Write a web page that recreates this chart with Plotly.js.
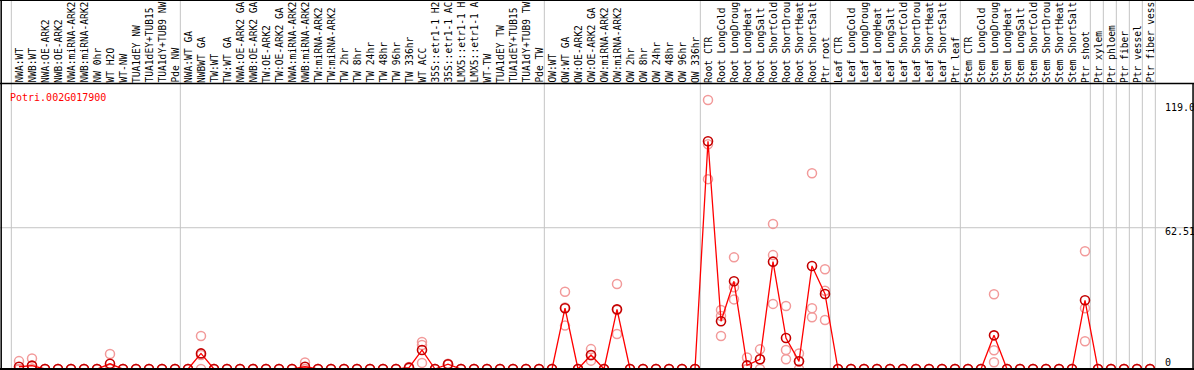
<!DOCTYPE html>
<html><head><meta charset="utf-8">
<script src="https://cdn.plot.ly/plotly-3.0.1.min.js"></script>
<style>html,body{margin:0;padding:0;background:#fff}#chart{width:1194px;height:370px}</style>
</head><body><div id="chart"></div>
<script>
const geneId = "Potri.002G017900";
const categories = [
"NWA:WT","NWB:WT","NWA:OE-ARK2","NWB:OE-ARK2","NWA:miRNA-ARK2","NWB:miRNA-ARK2","NW 0hr","WT H2O","WT-NW","TUA1dEY NW","TUA1dEY+TUB15","TUA1dY+TUB9 NW","Pde NW",
"NWA:WT GA","NWBWT GA","TW:WT","TW:WT GA","NWA:OE-ARK2 GA","NWB:OE-ARK2 GA","TW:OE-ARK2","TW:OE-ARK2 GA","NWA:miRNA-ARK2","NWB:miRNA-ARK2","TW:miRNA-ARK2","TW:miRNA-ARK2","TW 2hr","TW 8hr","TW 24hr","TW 48hr","TW 96hr","TW 336hr","WT ACC","35S::etr1-1 H2","35S::etr1-1 AC","LMX5::etr1-1 H","LMX5::etr1-1 A","WT-TW","TUA1dEY TW","TUA1dEY+TUB15","TUA1dY+TUB9 TW","Pde TW",
"OW:WT","OW:WT GA","OW:OE-ARK2","OW:OE-ARK2 GA","OW:miRNA-ARK2","OW:miRNA-ARK2","OW 2hr","OW 8hr","OW 24hr","OW 48hr","OW 96hr","OW 336hr",
"Root CTR","Root LongCold","Root LongDroug","Root LongHeat","Root LongSalt","Root ShortCold","Root ShortDrou","Root ShortHeat","Root ShortSalt","Ptr root",
"Leaf CTR","Leaf LongCold","Leaf LongDroug","Leaf LongHeat","Leaf LongSalt","Leaf ShortCold","Leaf ShortDrou","Leaf ShortHeat","Leaf ShortSalt","Ptr leaf",
"Stem CTR","Stem LongCold","Stem LongDroug","Stem LongHeat","Stem LongSalt","Stem ShortCold","Stem ShortDrou","Stem ShortHeat","Stem ShortSalt","Ptr shoot",
"Ptr xylem","Ptr phloem","Ptr fiber","Ptr vessel","Ptr fiber vess"];

const means = [
1.0,1.5,0,0,0,0,0,2.3,0,0,0,0,0,
0,6.9,0,0,0,0,0,0,0,1.0,0,0,0,0,0,0,0,0.6,8.4,0,2.1,0,0,0,0,0,0,0,
0,26.9,0,6.2,0,26.4,0,0,0,0,0,0,
100.8,21.1,38.8,1.6,4.3,47.5,13.7,3.4,45.6,33.2,
0,0,0,0,0,0,0,0,0,0,
0,0,14.9,0,0,0,0,0,0,30.4,
0,0,0,0,0];

const rep1 = [
3.5,4.7,0,0,0,0,0,6.6,0,0,0,0,0,
0,14.6,0,0,0,0,0,0,0,2.9,0,0,0,0,0,0,0,0.9,12.0,0,2.3,0,0,0,0,0,0,0,
0,34.2,0,8.8,0,37.6,0,0,0,0,0,0,
119.0,26.1,49.4,5.1,8.7,64.2,27.9,6.9,86.6,44.1,
0,0,0,0,0,0,0,0,0,0,
0,0,33.1,0,0,0,0,0,0,52.1,
0,0,0,0,0];

const rep2 = [
0,0,0,0,0,0,0,0.3,0,0,0,0,0,
0,6.2,0,0,0,0,0,0,0,0,0,0,0,0,0,0,0,0.6,10.6,0,2.0,0,0,0,0,0,0,0,
0,27.2,0,6.1,0,26.1,0,0,0,0,0,0,
99.4,23.5,36.2,0,4.2,50.4,8.4,3.3,26.9,34.6,
0,0,0,0,0,0,0,0,0,0,
0,0,8.3,0,0,0,0,0,0,26.9,
0,0,0,0,0];

const rep3 = [
0,0,0,0,0,0,0,0,0,0,0,0,0,
0,0,0,0,0,0,0,0,0,0,0,0,0,0,0,0,0,0.3,2.7,0,2.0,0,0,0,0,0,0,0,
0,19.2,0,3.7,0,15.5,0,0,0,0,0,0,
84.0,14.6,30.8,0,0,28.8,4.3,0,22.9,21.7,
0,0,0,0,0,0,0,0,0,0,
0,0,3.0,0,0,0,0,0,0,12.3,
0,0,0,0,0];

const groupBreaks = [0, 13, 41, 53, 63, 73, 83, 84, 85, 86, 87, 88];
const yTicks = [0, 62.51, 119.0];
const yTickText = ["0", "62.51", "119.0"];

const idx = categories.map((_, i) => i);
const repX = [], repY = [];
[rep1, rep2, rep3].forEach(r => r.forEach((v, i) => { repX.push(i); repY.push(v); }));

const PXU = 2.26;
const Y0 = 369;
const H = 370;
const yMin = -(H - Y0) / PXU;
const yMax = Y0 / PXU;
const labelBase = (Y0 - 84) / PXU;

const traces = [
  {x: repX, y: repY, type: 'scatter', mode: 'markers', hoverinfo: 'skip',
   marker: {symbol: 'circle-open', size: 9, color: '#f29a9a', line: {width: 1.5, color: '#f29a9a'}}},
  {x: idx, y: means, type: 'scatter', mode: 'lines+markers',
   line: {color: '#ff0000', width: 1.3},
   marker: {symbol: 'circle-open', size: 9, color: '#c40000', line: {width: 1.6, color: '#c40000'}}}
];

const shapes = [];
groupBreaks.forEach(b => {
  shapes.push({type: 'line', xref: 'x', yref: 'paper', x0: b - 0.59, x1: b - 0.59, y0: 0, y1: 1,
               line: {color: '#c4c4c4', width: 1}, layer: 'below'});
});
shapes.push({type: 'line', xref: 'paper', yref: 'y', x0: 0, x1: 1, y0: 62.51, y1: 62.51, line: {color: '#c4c4c4', width: 1}, layer: 'below'});
shapes.push({type: 'line', xref: 'paper', yref: 'y', x0: 0, x1: 1, y0: labelBase + 0.2, y1: labelBase + 0.2, line: {color: '#000', width: 1.5}});
shapes.push({type: 'line', xref: 'paper', yref: 'paper', x0: 0, x1: 1, y0: 0.999, y1: 0.999, line: {color: '#000', width: 1.5}});
shapes.push({type: 'line', xref: 'paper', yref: 'paper', x0: 0.001, x1: 0.001, y0: 0, y1: 1, line: {color: '#000', width: 1.5}});
shapes.push({type: 'line', xref: 'paper', yref: 'y', x0: 0.9992, x1: 0.9992, y0: 0, y1: labelBase, line: {color: '#000', width: 1.5}});
shapes.push({type: 'line', xref: 'paper', yref: 'y', x0: 0, x1: 1, y0: 0, y1: 0, line: {color: '#000', width: 2}});

const mono = 'DejaVu Sans Mono, Liberation Mono, monospace';
const annotations = categories.map((c, i) => ({
  x: i, y: labelBase, xref: 'x', yref: 'y', text: c, showarrow: false,
  textangle: -90, xanchor: 'center', yanchor: 'bottom', borderpad: 0,
  font: {family: mono, size: 9.6, color: '#000'}
}));
annotations.push({x: 8 / 1194, y: 1 - 97 / 370, xref: 'paper', yref: 'paper', text: geneId, showarrow: false,
  xanchor: 'left', yanchor: 'middle', font: {family: mono, size: 10, color: '#ff0000'}});
const shifts = [7, -4, -7];
yTicks.forEach((t, k) => annotations.push({
  x: 1163 / 1194, y: t, xref: 'paper', yref: 'y', text: yTickText[k], showarrow: false,
  xanchor: 'left', yanchor: 'middle', yshift: shifts[k], font: {family: mono, size: 10, color: '#000'}
}));

const layout = {
  width: 1194, height: 370, margin: {l: 0, r: 0, t: 0, b: 0},
  paper_bgcolor: '#fff', plot_bgcolor: '#fff', showlegend: false,
  xaxis: {range: [-19 / 13, (1194 - 19) / 13], showgrid: false, zeroline: false, showticklabels: false, ticks: ''},
  yaxis: {range: [yMin, yMax], showgrid: false, zeroline: false, showticklabels: false, ticks: ''},
  shapes, annotations
};
Plotly.newPlot('chart', traces, layout, {staticPlot: true});
</script></body></html>
